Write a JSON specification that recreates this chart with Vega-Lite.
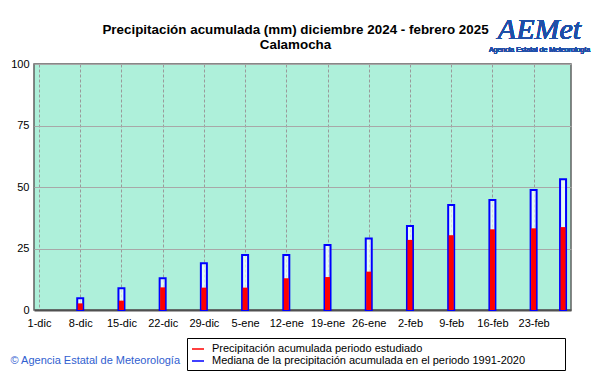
{
  "$schema": "https://vega.github.io/schema/vega-lite/v6.json",
  "width": 537,
  "height": 246,
  "autosize": "none",
  "padding": {"left": 34, "top": 64, "right": 30, "bottom": 64},
  "background": "white",
  "title": {
    "text": "Precipitación acumulada (mm) diciembre 2024 - febrero 2025",
    "subtitle": "Calamocha",
    "anchor": "middle",
    "frame": "group",
    "dx": -7,
    "font": "Liberation Sans",
    "fontSize": 13.4,
    "fontWeight": "bold",
    "color": "black",
    "subtitleFont": "Liberation Sans",
    "subtitleFontSize": 13.4,
    "subtitleFontWeight": "bold",
    "subtitleColor": "black",
    "subtitlePadding": 2,
    "offset": -36
  },
  "config": {
    "font": "Liberation Sans",
    "view": {"fill": "#aef0da", "stroke": "#606060", "strokeWidth": 1.5}
  },
  "data": {
    "values": [
      {"fecha": "2024-12-08", "precipitacion": 2.7, "mediana": 4.8},
      {"fecha": "2024-12-15", "precipitacion": 3.8, "mediana": 8.8},
      {"fecha": "2024-12-22", "precipitacion": 9.2, "mediana": 12.9},
      {"fecha": "2024-12-29", "precipitacion": 9.1, "mediana": 19.0},
      {"fecha": "2025-01-05", "precipitacion": 9.1, "mediana": 22.4},
      {"fecha": "2025-01-12", "precipitacion": 12.9, "mediana": 22.4},
      {"fecha": "2025-01-19", "precipitacion": 13.4, "mediana": 26.4},
      {"fecha": "2025-01-26", "precipitacion": 15.6, "mediana": 29.1},
      {"fecha": "2025-02-02", "precipitacion": 28.5, "mediana": 34.1},
      {"fecha": "2025-02-09", "precipitacion": 30.4, "mediana": 42.7},
      {"fecha": "2025-02-16", "precipitacion": 32.8, "mediana": 44.7},
      {"fecha": "2025-02-23", "precipitacion": 33.2, "mediana": 48.8},
      {"fecha": "2025-02-28", "precipitacion": 33.7, "mediana": 53.1}
    ]
  },
  "encoding": {
    "x": {
      "field": "fecha",
      "type": "temporal",
      "scale": {
        "type": "utc",
        "domain": [
          {"year": 2024, "month": 12, "date": 1, "utc": true},
          {"year": 2025, "month": 2, "date": 28, "hours": 12, "utc": true}
        ]
      },
      "axis": {
        "tickCount": {"interval": "week", "step": 1},
        "labelExpr": "utcdate(datum.value) + '-' + ['ene','feb','mar','abr','may','jun','jul','ago','sep','oct','nov','dic'][utcmonth(datum.value)]",
        "labelFontSize": 11,
        "labelColor": "black",
        "labelPadding": 7,
        "labelFlush": false,
        "labelOverlap": false,
        "ticks": false,
        "domainColor": "#505050",
        "domainWidth": 2,
        "grid": true,
        "gridColor": "#9a9a9a",
        "gridDash": [3, 2],
        "gridWidth": 1,
        "title": "© Agencia Estatal de Meteorología",
        "titleColor": "#3060d0",
        "titleFontSize": 11,
        "titleFontWeight": "normal",
        "titleAnchor": "start",
        "titleAlign": "left",
        "titleBaseline": "alphabetic",
        "titleX": -24,
        "titleY": 53
      }
    }
  },
  "layer": [
    {
      "mark": {"type": "bar", "width": 6, "filled": false, "fill": "white", "fillOpacity": 0.65, "strokeWidth": 2},
      "encoding": {
        "y": {
          "field": "mediana",
          "type": "quantitative",
          "scale": {"domain": [0, 100], "nice": false},
          "axis": {
            "values": [0, 25, 50, 75, 100],
            "title": null,
            "ticks": false,
            "domain": false,
            "labelFontSize": 11,
            "labelColor": "black",
            "labelPadding": 5,
            "grid": true,
            "gridColor": "#a8a8a8",
            "gridWidth": 1
          }
        },
        "color": {
          "datum": "Mediana de la precipitación acumulada en el periodo 1991-2020",
          "scale": {
            "domain": ["Precipitación acumulada periodo estudiado", "Mediana de la precipitación acumulada en el periodo 1991-2020"],
            "range": ["#ff0000", "#0000ff"]
          },
          "legend": {
            "orient": "none",
            "legendX": 153,
            "legendY": 274,
            "title": ".",
            "titleColor": "white",
            "titleOrient": "right",
            "titlePadding": 34,
            "titleFontSize": 6,
            "symbolType": "stroke",
            "symbolSize": 144,
            "symbolStrokeWidth": 1.5,
            "labelFontSize": 11,
            "labelColor": "black",
            "labelOffset": 7,
            "labelLimit": 500,
            "rowPadding": 0,
            "padding": 4,
            "strokeColor": "black",
            "fillColor": "white",
            "encode": {
              "symbols": {
                "update": {
                  "stroke": {"scale": "color", "field": "value"},
                  "fill": {"value": "transparent"},
                  "strokeWidth": {"value": 1.5}
                }
              }
            }
          }
        }
      }
    },
    {
      "mark": {"type": "bar", "width": 5},
      "encoding": {
        "y": {"field": "precipitacion", "type": "quantitative"},
        "color": {"datum": "Precipitación acumulada periodo estudiado"}
      }
    },
    {
      "mark": {"type": "text", "text": "AEMet", "font": "Liberation Serif", "fontStyle": "italic", "fontSize": 30, "fill": "#1f4fa8", "align": "center", "baseline": "alphabetic"},
      "encoding": {
        "x": {"datum": {"year": 2025, "month": 2, "date": 24, "utc": true}, "type": "temporal"},
        "y": {"datum": 110}
      }
    },
    {
      "mark": {"type": "text", "text": "Agencia Estatal de Meteorología", "fontSize": 7, "fill": "#1f4fa8", "align": "center", "baseline": "middle"},
      "encoding": {
        "x": {"datum": {"year": 2025, "month": 2, "date": 24, "utc": true}, "type": "temporal"},
        "y": {"datum": 105.5}
      }
    }
  ]
}
